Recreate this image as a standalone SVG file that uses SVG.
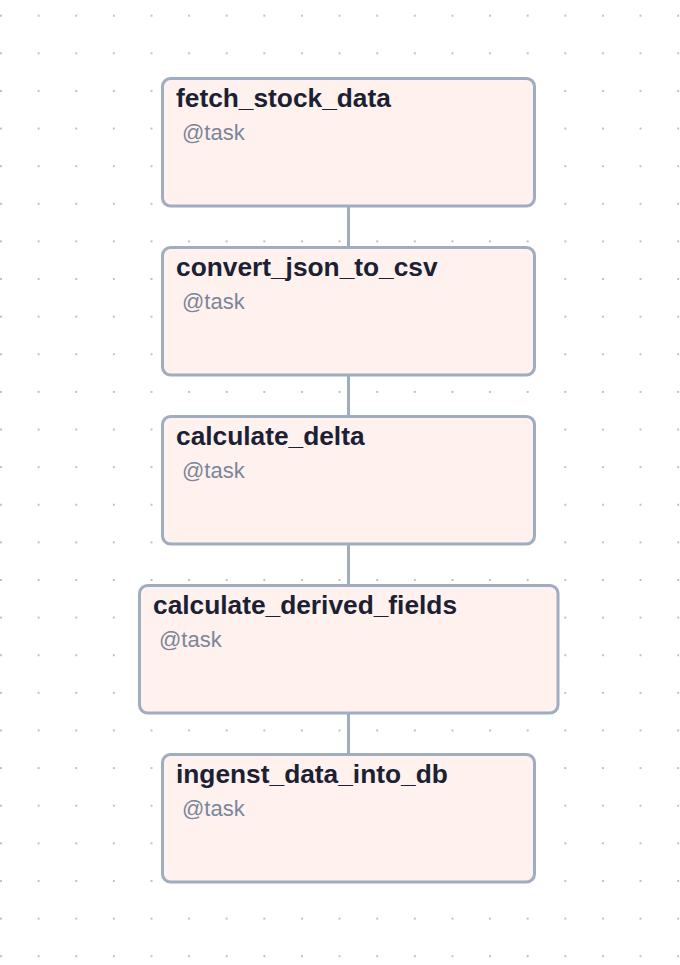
<svg xmlns="http://www.w3.org/2000/svg" width="680" height="965" viewBox="0 0 680 965">
<defs>
<pattern id="dots" patternUnits="userSpaceOnUse" x="0" y="14.7" width="37.62" height="37.62">
<circle cx="1" cy="1" r="0.95" fill="#a8a8a8"/>
</pattern>
<style>
.box{fill:#fff1ee;stroke:#a0acc0;stroke-width:3}
.edge{stroke:#a0acc0;stroke-width:3;fill:none}
.title{font-family:"Liberation Sans",Arial,sans-serif;font-weight:bold;font-size:26.3px;fill:#1c2033}
.sub{font-family:"Liberation Sans",Arial,sans-serif;font-size:22px;fill:#7b869b}
</style>
</defs>
<rect width="680" height="965" fill="#ffffff"/>
<rect width="680" height="965" fill="url(#dots)"/>
<g id="connectors">
<line class="edge" x1="348.5" y1="206" x2="348.5" y2="247.5"/>
<line class="edge" x1="348.5" y1="375" x2="348.5" y2="416.5"/>
<line class="edge" x1="348.5" y1="544" x2="348.5" y2="585.5"/>
<line class="edge" x1="348.5" y1="713" x2="348.5" y2="754.5"/>
</g>
<g id="fetch_stock_data">
<rect class="box" x="162.5" y="78.5" width="372" height="127.5" rx="8"/>
<text class="title" x="176" y="106.7">fetch_stock_data</text>
<text class="sub" x="182" y="140">@task</text>
</g>
<g id="convert_json_to_csv">
<rect class="box" x="162.5" y="247.5" width="372" height="127.5" rx="8"/>
<text class="title" x="176" y="275.7">convert_json_to_csv</text>
<text class="sub" x="182" y="309">@task</text>
</g>
<g id="calculate_delta">
<rect class="box" x="162.5" y="416.5" width="372" height="127.5" rx="8"/>
<text class="title" x="176" y="444.7">calculate_delta</text>
<text class="sub" x="182" y="478">@task</text>
</g>
<g id="calculate_derived_fields">
<rect class="box" x="139.5" y="585.5" width="418.5" height="127.5" rx="8"/>
<text class="title" x="153" y="613.7">calculate_derived_fields</text>
<text class="sub" x="159" y="647">@task</text>
</g>
<g id="ingenst_data_into_db">
<rect class="box" x="162.5" y="754.5" width="372" height="127.5" rx="8"/>
<text class="title" x="176" y="782.7">ingenst_data_into_db</text>
<text class="sub" x="182" y="816">@task</text>
</g>
</svg>
